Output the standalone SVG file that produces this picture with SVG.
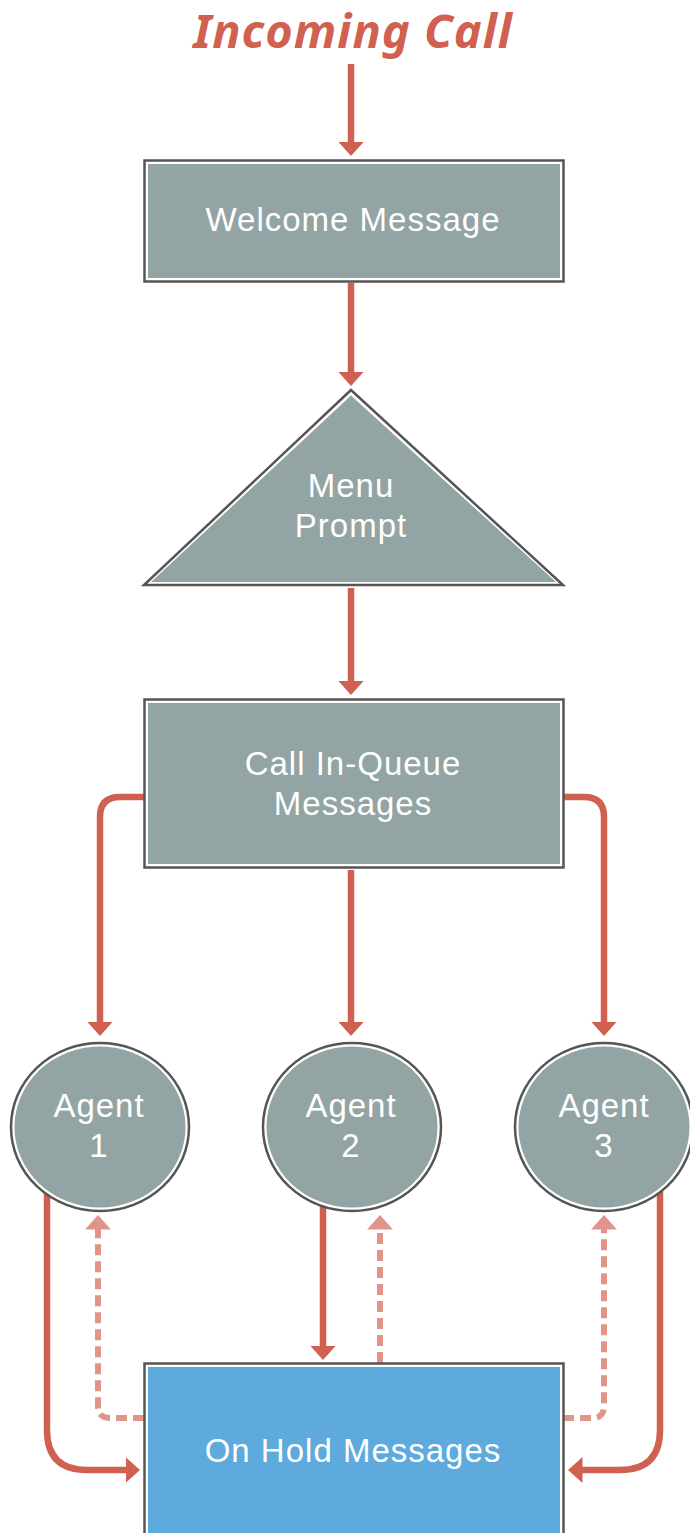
<svg xmlns="http://www.w3.org/2000/svg" width="690" height="1533" viewBox="0 0 690 1533">
<style>
.outer{fill:#fff;stroke:#555;stroke-width:2.5}
.gray{fill:#92a4a3}
.blue{fill:#5eaadc}
.lbl{font-family:"Liberation Sans",Arial,sans-serif;font-size:33px;letter-spacing:1px;fill:#fff;text-anchor:middle}
.title{font-family:"Noto Sans","DejaVu Sans",sans-serif;font-size:47px;letter-spacing:1px;font-weight:bold;font-style:italic;fill:#d06050;text-anchor:middle}
.solid{fill:none;stroke:#d06050;stroke-width:6.5;marker-end:url(#ah)}
.dash{fill:none;stroke:#e0948a;stroke-width:6;stroke-dasharray:11 6;marker-end:url(#ahl)}
</style>
<defs>
<marker id="ah" markerUnits="userSpaceOnUse" markerWidth="16" markerHeight="28" refX="0.5" refY="14" orient="auto" viewBox="0 0 16 28">
<path d="M0,1 L14.5,14 L0,27 z" fill="#d06050"/>
</marker>
<marker id="ahl" markerUnits="userSpaceOnUse" markerWidth="16" markerHeight="28" refX="0.5" refY="14" orient="auto" viewBox="0 0 16 28">
<path d="M0,1 L14.5,14 L0,27 z" fill="#e0948a"/>
</marker>
</defs>
<text class="title" x="353" y="48">Incoming Call</text>
<g id="connectors">
<path class="solid" d="M351,64 V142"/>
<path class="solid" d="M351,283 V372"/>
<path class="solid" d="M351,588 V681"/>
<path class="solid" d="M144,797 H120 Q100,797 100,817 V1022"/>
<path class="solid" d="M351,870 V1022"/>
<path class="solid" d="M563,797 H584 Q604,797 604,817 V1022"/>
<path class="solid" d="M47,1190 V1430 Q47,1470 87,1470 H126"/>
<path class="dash" d="M144,1418 H110 Q98,1418 98,1406 V1229"/>
<path class="solid" d="M323,1205 V1346"/>
<path class="dash" d="M380,1363 V1229"/>
<path class="dash" d="M563,1418 H592 Q604,1418 604,1406 V1229"/>
<path class="solid" d="M660,1190 V1430 Q660,1470 620,1470 H582"/>
</g>
<g id="welcome">
<rect class="outer" x="144.5" y="160.5" width="419" height="121"/>
<rect class="gray" x="148" y="164" width="412" height="114"/>
<text class="lbl" x="353" y="231">Welcome Message</text>
</g>
<g id="menu">
<polygon class="outer" points="351,390 144,585 563,585"/>
<polygon class="gray" points="351,395.5 151,582 556,582"/>
<text class="lbl" x="351" y="497">Menu</text>
<text class="lbl" x="351" y="537">Prompt</text>
</g>
<g id="queue">
<rect class="outer" x="144.5" y="699.5" width="419" height="168"/>
<rect class="gray" x="148" y="703" width="412" height="161"/>
<text class="lbl" x="353" y="775">Call In-Queue</text>
<text class="lbl" x="353" y="815">Messages</text>
</g>
<g id="agent1">
<ellipse class="outer" cx="100" cy="1127" rx="89" ry="84"/>
<ellipse class="gray" cx="100" cy="1127" rx="85.5" ry="80.5"/>
<text class="lbl" x="99" y="1117">Agent</text>
<text class="lbl" x="99" y="1157">1</text>
</g>
<g id="agent2">
<ellipse class="outer" cx="352" cy="1127" rx="89" ry="84"/>
<ellipse class="gray" cx="352" cy="1127" rx="85.5" ry="80.5"/>
<text class="lbl" x="351" y="1117">Agent</text>
<text class="lbl" x="351" y="1157">2</text>
</g>
<g id="agent3">
<ellipse class="outer" cx="604" cy="1127" rx="89" ry="84"/>
<ellipse class="gray" cx="604" cy="1127" rx="85.5" ry="80.5"/>
<text class="lbl" x="604" y="1117">Agent</text>
<text class="lbl" x="604" y="1157">3</text>
</g>
<g id="onhold">
<rect class="outer" x="144.5" y="1363.5" width="419" height="200"/>
<rect class="blue" x="148" y="1367" width="412" height="200"/>
<text class="lbl" x="353" y="1462">On Hold Messages</text>
</g>
</svg>
